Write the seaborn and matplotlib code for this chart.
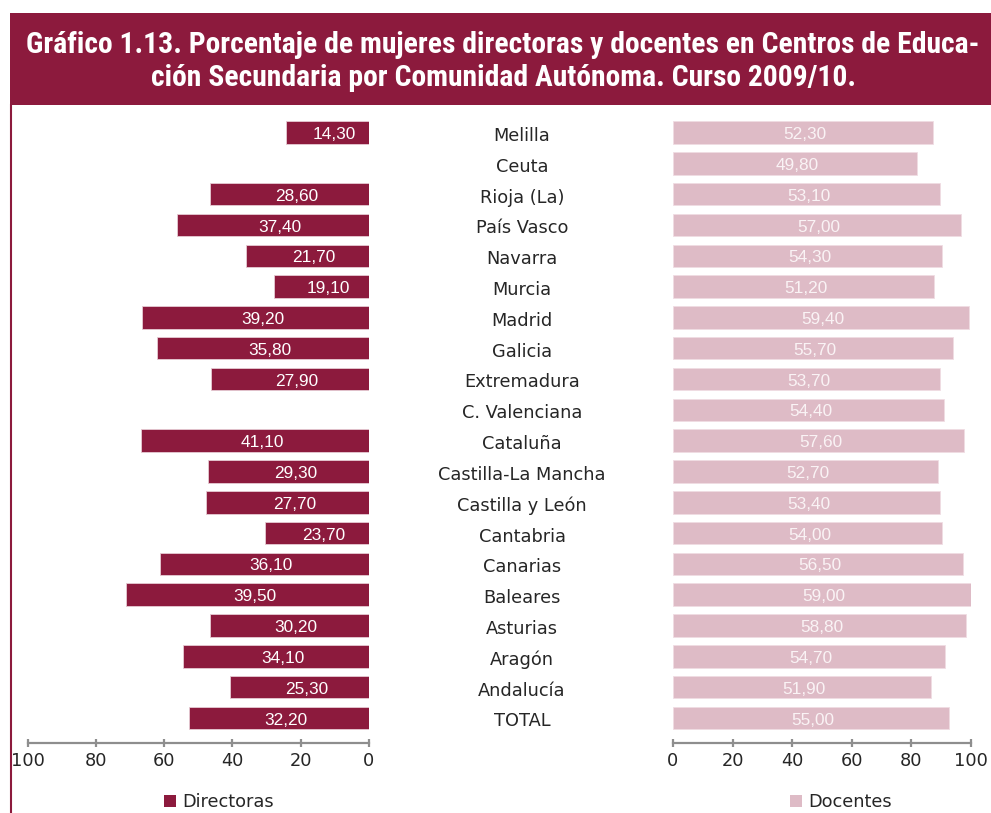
import numpy as np
import pandas as pd
import matplotlib
matplotlib.use("Agg")
import matplotlib.pyplot as plt
import matplotlib.transforms as mtransforms
from matplotlib.patches import Rectangle, Patch
from matplotlib.lines import Line2D
import seaborn as sns

# ---------------- data ----------------
regions = ["Melilla", "Ceuta", "Rioja (La)", "País Vasco", "Navarra", "Murcia",
           "Madrid", "Galicia", "Extremadura", "C. Valenciana", "Cataluña",
           "Castilla-La Mancha", "Castilla y León", "Cantabria", "Canarias",
           "Baleares", "Asturias", "Aragón", "Andalucía", "TOTAL"]
# values printed on the bars
directoras_values = [14.30, np.nan, 28.60, 37.40, 21.70, 19.10, 39.20, 35.80, 27.90,
                     np.nan, 41.10, 29.30, 27.70, 23.70, 36.10, 39.50, 30.20, 34.10,
                     25.30, 32.20]
docentes_values = [52.30, 49.80, 53.10, 57.00, 54.30, 51.20, 59.40, 55.70, 53.70,
                   54.40, 57.60, 52.70, 53.40, 54.00, 56.50, 59.00, 58.80, 54.70,
                   51.90, 55.00]
# bar lengths as drawn against the 0-100 axes
directoras_bars = [24.4, np.nan, 46.5, 56.4, 36.1, 27.7, 66.4, 62.2, 46.3, np.nan,
                   66.7, 47.1, 47.8, 30.3, 61.3, 71.1, 46.7, 54.4, 40.7, 52.7]
docentes_bars = [87.2, 82.1, 89.6, 96.6, 90.4, 87.6, 99.4, 94.1, 89.6, 91.0,
                 97.6, 88.9, 89.7, 90.4, 97.4, 100.0, 98.5, 91.4, 86.6, 92.7]
x_ticks = [0, 20, 40, 60, 80, 100]
title_lines = ["Gráfico 1.13. Porcentaje de mujeres directoras y docentes en Centros de Educa-",
               "ción Secundaria por Comunidad Autónoma. Curso 2009/10."]
series_names = ["Directoras", "Docentes"]

# ---------------- style ----------------
DARK = "#8C1A3D"
LIGHT = "#DEBBC6"
AXIS = "#8E8E8E"
TXT = "#262626"

sns.set_style("white")
plt.rcParams["font.family"] = ["DejaVu Sans"]

W, H = 991, 813
fig = plt.figure(figsize=(W / 100, H / 100), dpi=100)
fig.patch.set_facecolor("white")

def fx(px):
    return px / W

def fy(py):
    return 1 - py / H

ax_top, ax_bot = 117.1, 742.6
axL = fig.add_axes([fx(28), fy(ax_bot), fx(368.7) - fx(28), (ax_bot - ax_top) / H])
axR = fig.add_axes([fx(673), fy(ax_bot), fx(970.7) - fx(673), (ax_bot - ax_top) / H])

dfL = pd.DataFrame({"region": regions, "value": directoras_bars})
dfR = pd.DataFrame({"region": regions, "value": docentes_bars})

sns.barplot(data=dfL, y="region", x="value", order=regions, orient="h", color=DARK,
            saturation=1, width=0.73, errorbar=None, ax=axL,
            edgecolor="#E6CBD3", linewidth=0.6)
sns.barplot(data=dfR, y="region", x="value", order=regions, orient="h", color=LIGHT,
            saturation=1, width=0.73, errorbar=None, ax=axR,
            edgecolor="#F0DDE3", linewidth=0.6)

for ax in (axL, axR):
    ax.set_ylim(19.8, -0.5)
    ax.set_xticks(x_ticks)
    ax.set_xlabel("")
    ax.set_ylabel("")
    ax.set_yticks([])
    for s in ("left", "right", "top"):
        ax.spines[s].set_visible(False)
    ax.spines["bottom"].set_color(AXIS)
    ax.spines["bottom"].set_linewidth(1.6)
    ax.tick_params(axis="x", bottom=True, direction="inout", length=6, width=1.6,
                   color=AXIS, labelsize=12.8, labelcolor=TXT, pad=4)
    ax.set_facecolor("none")
    ax.grid(False)
axL.set_xlim(100, 0)
axR.set_xlim(0, 100)

# value labels
for i, (b, v) in enumerate(zip(directoras_bars, directoras_values)):
    if np.isnan(b):
        continue
    axL.annotate(f"{v:.2f}".replace(".", ","), xy=(b / 2, i), xytext=(5.0, -1.5),
                 textcoords="offset points", ha="center", va="center",
                 color="white", fontsize=12.4, family="Liberation Sans")
for i, (b, v) in enumerate(zip(docentes_bars, docentes_values)):
    axR.annotate(f"{v:.2f}".replace(".", ","), xy=(b / 2, i), xytext=(1.5, -1.5),
                 textcoords="offset points", ha="center", va="center",
                 color="#FAF3F5", fontsize=12.4, family="Liberation Sans")

# region names in the centre
trans = mtransforms.blended_transform_factory(fig.transFigure, axL.transData)
for i, r in enumerate(regions):
    axL.annotate(r, xy=(fx(522), i), xycoords=trans, xytext=(0, -2.5),
                 textcoords="offset points", ha="center", va="center",
                 color=TXT, fontsize=12.8, annotation_clip=False)

# title banner
fig.patches.append(Rectangle((fx(10), fy(105)), 1 - fx(10), (105 - 13) / H,
                             transform=fig.transFigure, facecolor=DARK,
                             edgecolor="none", zorder=0))
fig.lines.append(Line2D([fx(10.7), fx(10.7)], [0, fy(104)], transform=fig.transFigure,
                        color=DARK, linewidth=1.5))

tfam = ["Roboto Condensed", "Liberation Sans Narrow", "Roboto", "DejaVu Sans"]
t1 = fig.text(fx(503), fy(53.3), title_lines[0], ha="center", va="baseline",
              color="white", fontsize=20, fontweight="bold", family=tfam)
t2 = fig.text(fx(503), fy(85.5), title_lines[1], ha="center", va="baseline",
              color="white", fontsize=20, fontweight="bold", family=tfam)
fig.canvas.draw()
r = fig.canvas.get_renderer()
w = t1.get_window_extent(renderer=r).width
fs = 20 * 950 / w
t1.set_fontsize(fs)
t2.set_fontsize(fs)

# legends
lg1 = fig.legend(handles=[Patch(facecolor=DARK, edgecolor="none")], labels=[series_names[0]],
                 loc="center left", bbox_to_anchor=(fx(164), fy(802)), frameon=False,
                 handlelength=0.65, handleheight=0.65, handletextpad=0.35,
                 borderpad=0, borderaxespad=0, fontsize=12.8, labelcolor=TXT)
lg2 = fig.legend(handles=[Patch(facecolor=LIGHT, edgecolor="none")], labels=[series_names[1]],
                 loc="center left", bbox_to_anchor=(fx(790), fy(802)), frameon=False,
                 handlelength=0.65, handleheight=0.65, handletextpad=0.35,
                 borderpad=0, borderaxespad=0, fontsize=12.8, labelcolor=TXT)

fig.savefig("out.png", dpi=100, facecolor="white")
